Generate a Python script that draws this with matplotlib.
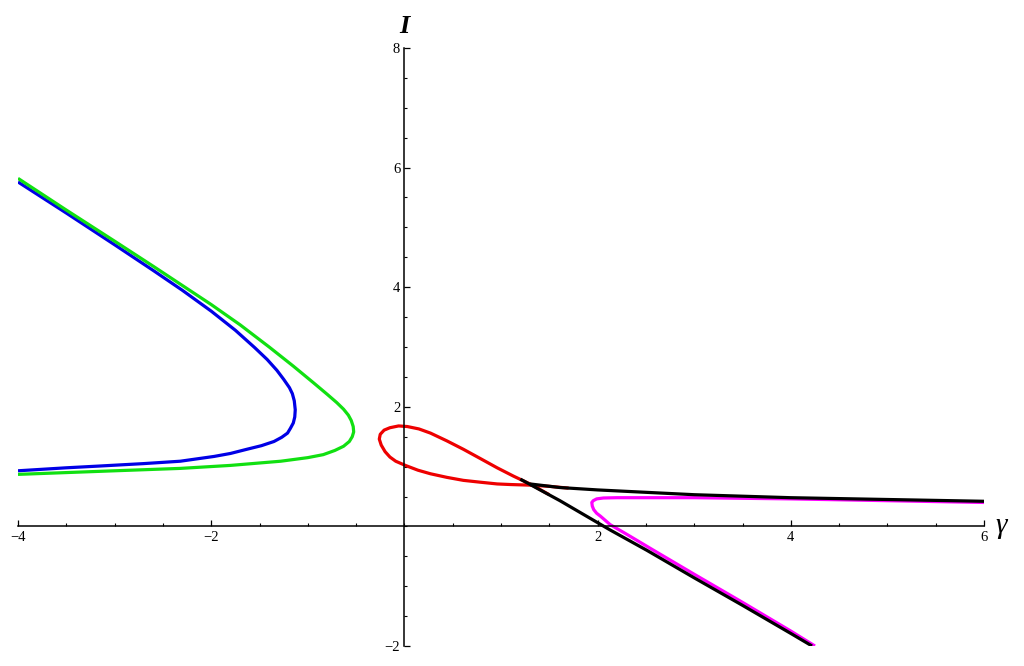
import numpy as np
import matplotlib.pyplot as plt
from matplotlib.ticker import MultipleLocator, FixedLocator

# curves (gamma, I)
blue_x = [-4.0, -3.5, -3.0, -2.6, -2.3, -2.0, -1.75, -1.55, -1.42, -1.32, -1.25, -1.19, -1.16,
          -1.14, -1.13, -1.135, -1.15, -1.18, -1.21, -1.27, -1.35, -1.48, -1.63, -1.80,
          -1.97, -2.32, -2.7, -3.15, -3.5, -4.0]
blue_y = [5.76, 5.24, 4.71, 4.28, 3.95, 3.60, 3.28, 2.99, 2.79, 2.61, 2.46, 2.32, 2.22,
          2.10, 1.95, 1.83, 1.73, 1.64, 1.56, 1.49, 1.42, 1.35, 1.29, 1.22,
          1.17, 1.09, 1.05, 1.01, 0.98, 0.93]

green_x = [-4.0, -3.5, -3.0, -2.6, -2.3, -2.0, -1.7, -1.4, -1.15, -0.94, -0.80, -0.70, -0.63,
           -0.58, -0.55, -0.53, -0.525, -0.54, -0.57, -0.63, -0.72, -0.84, -1.0, -1.28,
           -1.80, -2.32, -3.0, -3.5, -4.0]
green_y = [5.82, 5.29, 4.77, 4.35, 4.03, 3.71, 3.37, 3.00, 2.68, 2.40, 2.21, 2.07, 1.96,
           1.86, 1.77, 1.67, 1.58, 1.50, 1.42, 1.34, 1.27, 1.20, 1.15, 1.09,
           1.02, 0.97, 0.93, 0.90, 0.87]

red_x = [1.70, 1.50, 1.30, 1.10, 0.96, 0.78, 0.61, 0.44, 0.27, 0.14, 0.01, -0.09, -0.15,
         -0.20, -0.24, -0.26, -0.25, -0.21, -0.15, -0.06, 0.03, 0.15, 0.27, 0.44, 0.61,
         0.78, 0.96, 1.13, 1.30, 1.50]
red_y = [0.64, 0.67, 0.69, 0.70, 0.71, 0.74, 0.77, 0.82, 0.88, 0.94, 1.02, 1.09, 1.16,
         1.25, 1.36, 1.46, 1.54, 1.61, 1.65, 1.68, 1.67, 1.63, 1.56, 1.43, 1.29,
         1.14, 0.98, 0.84, 0.71, 0.53]

magenta_x = [6.0, 5.0, 4.0, 3.0, 2.5, 2.2, 2.06, 1.99, 1.955, 1.94, 1.945, 1.96, 1.99, 2.03,
             2.13, 2.31, 2.58, 3.0, 3.5, 4.0, 4.25]
magenta_y = [0.40, 0.43, 0.46, 0.48, 0.48, 0.48, 0.475, 0.46, 0.43, 0.40, 0.34, 0.28, 0.22,
             0.17, 0.03, -0.14, -0.40, -0.80, -1.27, -1.75, -2.0]

black_up_x = [1.30, 1.61, 2.0, 2.5, 3.0, 4.0, 5.0, 6.0]
black_up_y = [0.71, 0.65, 0.61, 0.57, 0.53, 0.48, 0.45, 0.42]

black_dn_x = [1.20, 1.61, 2.13, 2.51, 3.0, 3.5, 4.0, 4.22]
black_dn_y = [0.79, 0.43, -0.06, -0.40, -0.86, -1.32, -1.79, -2.0]

xticks = [-4, -2, 2, 4, 6]
yticks = [-2, 2, 4, 6, 8]

fig = plt.figure(figsize=(10.24, 6.66), dpi=100)
ax = fig.add_axes([18/1024, 20/666, 966/1024, 598/666])

lw = 2.3
style = dict(lw=lw, solid_joinstyle='round', solid_capstyle='butt')
ax.plot(blue_x, blue_y, color='#0000e6', **style)
ax.plot(green_x, green_y, color='#11e011', **style)
ax.plot(red_x, red_y, color='#ee0000', **style)
ax.plot(magenta_x, magenta_y, color='#ff00ff', **style)
ax.plot(black_up_x, black_up_y, color='black', **style)
ax.plot(black_dn_x, black_dn_y, color='black', **style)

ax.set_xlim(-4, 6)
ax.set_ylim(-2, 8)

for s in ['top', 'right']:
    ax.spines[s].set_visible(False)
ax.spines['left'].set_position(('data', 0))
ax.spines['bottom'].set_position(('data', 0))
for s in ['left', 'bottom']:
    ax.spines[s].set_linewidth(1.1)

ax.xaxis.set_major_locator(FixedLocator(xticks))
ax.yaxis.set_major_locator(FixedLocator(yticks))
ax.xaxis.set_minor_locator(MultipleLocator(0.5))
ax.yaxis.set_minor_locator(MultipleLocator(0.5))
ax.tick_params(which='major', direction='in', length=4.5, width=0.9, pad=3,
               labelsize=10.5, labelfontfamily='Liberation Serif')
ax.tick_params(which='minor', direction='in', length=2.3, width=0.8)

ax.text(0.0, 8.25, 'I', fontsize=19, fontfamily='Liberation Serif',
        fontstyle='italic', fontweight='bold', ha='center', va='baseline')
ax.text(6.12, 0.0, 'γ', fontsize=21, fontfamily='Liberation Serif',
        fontstyle='italic', ha='left', va='center')

fig.savefig('out.png', dpi=100)
